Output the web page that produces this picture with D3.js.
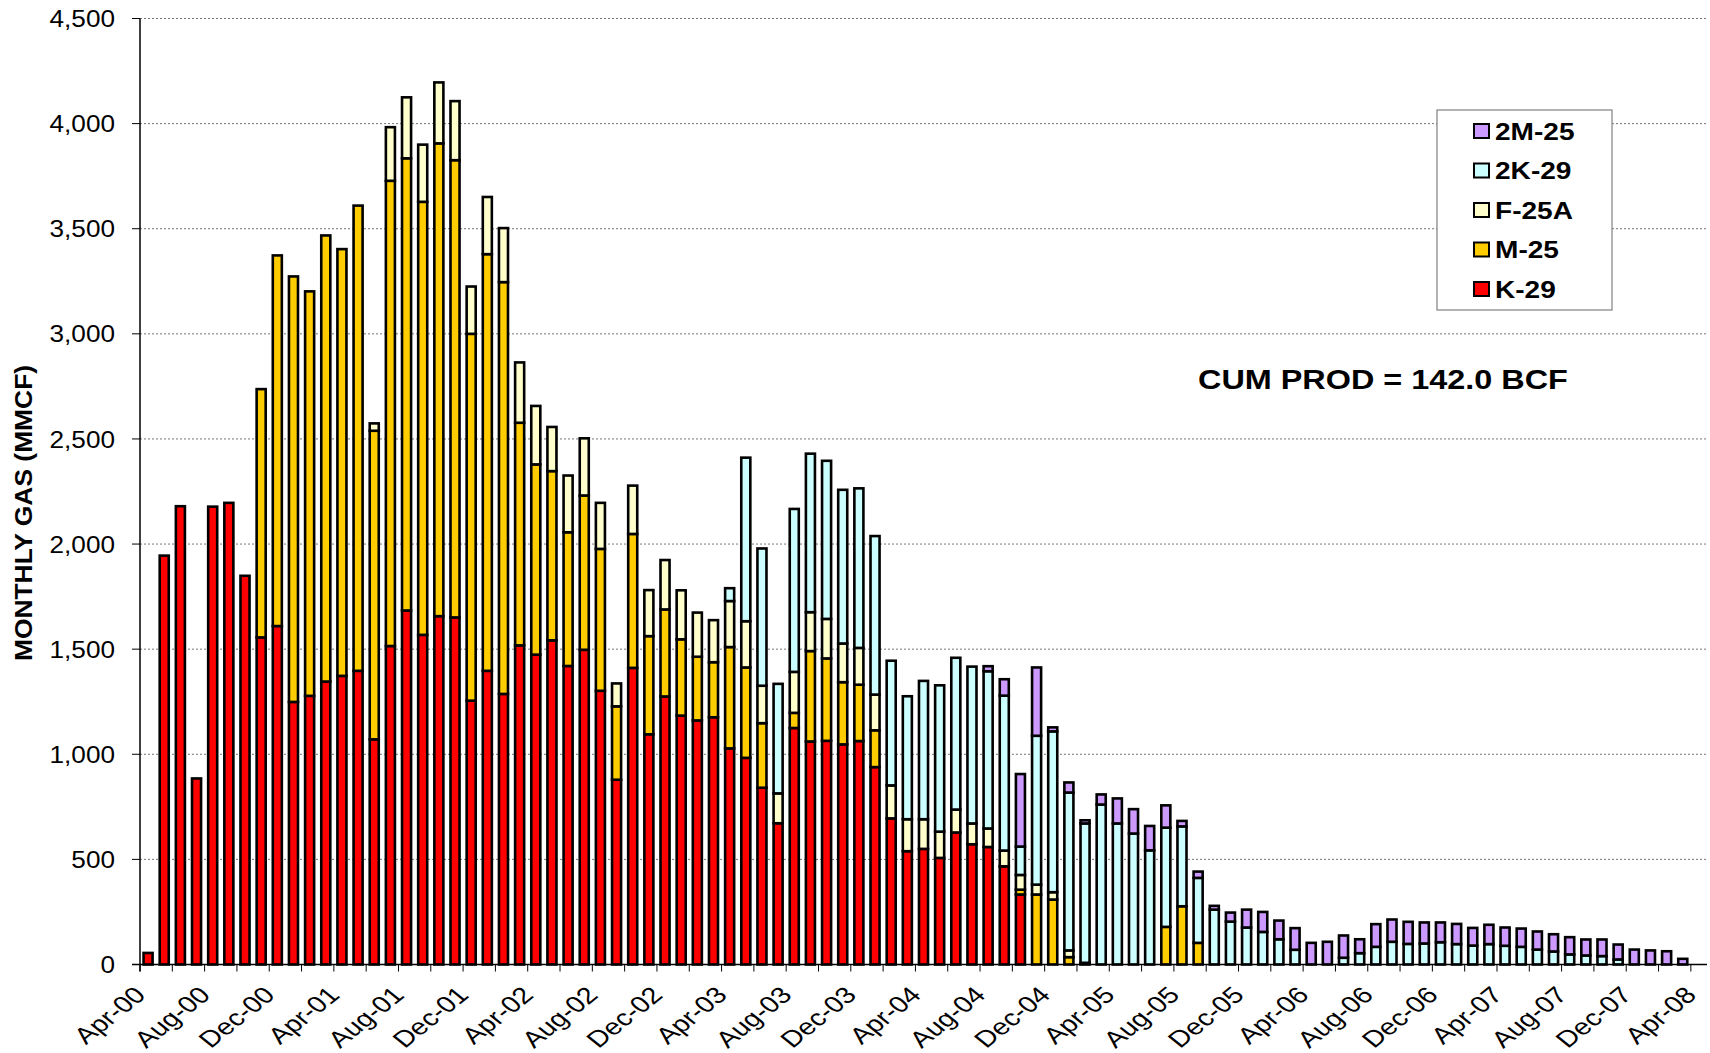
<!DOCTYPE html>
<html>
<head>
<meta charset="utf-8">
<script src="https://cdn.jsdelivr.net/npm/d3@7"></script>
<style>
  body { margin: 0; background: #fff; }
  text { font-family: "Liberation Sans", Arial, sans-serif; fill: #000; }
</style>
</head>
<body>
<div id="chart"></div>
<script>
var months = [
  "Apr-00","May-00","Jun-00","Jul-00","Aug-00","Sep-00","Oct-00","Nov-00","Dec-00",
  "Jan-01","Feb-01","Mar-01","Apr-01","May-01","Jun-01","Jul-01","Aug-01","Sep-01","Oct-01","Nov-01","Dec-01",
  "Jan-02","Feb-02","Mar-02","Apr-02","May-02","Jun-02","Jul-02","Aug-02","Sep-02","Oct-02","Nov-02","Dec-02",
  "Jan-03","Feb-03","Mar-03","Apr-03","May-03","Jun-03","Jul-03","Aug-03","Sep-03","Oct-03","Nov-03","Dec-03",
  "Jan-04","Feb-04","Mar-04","Apr-04","May-04","Jun-04","Jul-04","Aug-04","Sep-04","Oct-04","Nov-04","Dec-04",
  "Jan-05","Feb-05","Mar-05","Apr-05","May-05","Jun-05","Jul-05","Aug-05","Sep-05","Oct-05","Nov-05","Dec-05",
  "Jan-06","Feb-06","Mar-06","Apr-06","May-06","Jun-06","Jul-06","Aug-06","Sep-06","Oct-06","Nov-06","Dec-06",
  "Jan-07","Feb-07","Mar-07","Apr-07","May-07","Jun-07","Jul-07","Aug-07","Sep-07","Oct-07","Nov-07","Dec-07",
  "Jan-08","Feb-08","Mar-08","Apr-08"
];

var tickLabels = ["Apr-00","Aug-00","Dec-00","Apr-01","Aug-01","Dec-01","Apr-02","Aug-02","Dec-02",
  "Apr-03","Aug-03","Dec-03","Apr-04","Aug-04","Dec-04","Apr-05","Aug-05","Dec-05",
  "Apr-06","Aug-06","Dec-06","Apr-07","Aug-07","Dec-07","Apr-08"];

var yTicks = [0,500,1000,1500,2000,2500,3000,3500,4000,4500];

// monthly gas by well, MMCF
var k29 = [55,1945,2180,885,2178,2196,1849,1556,1610,1249,
  1278,1346,1373,1397,1071,1515,1684,1568,1657,1651,
  1255,1397,1287,1518,1474,1542,1420,1497,1302,879,
  1411,1095,1275,1184,1161,1176,1028,983,841,672,
  1125,1061,1064,1047,1063,939,695,539,550,507,
  628,572,559,467,333,0,0,0,0,0,
  0,0,0,0,0,0,0,0,0,0,
  0,0,0,0,0,0,0,0,0,0,
  0,0,0,0,0,0,0,0,0,0,
  0,0,0,0,0,0,0];

var m25 = [0,0,0,0,0,0,0,1181,1763,2024,
  1924,2122,2030,2213,1468,2213,2151,2060,2249,2175,
  1745,1982,1959,1059,905,805,636,734,675,349,
  637,467,414,363,303,262,482,430,307,0,
  72,430,392,296,268,175,0,0,0,0,
  0,0,0,0,23,333,309,35,0,0,
  0,0,0,179,277,103,0,0,0,0,
  0,0,0,0,0,0,0,0,0,0,
  0,0,0,0,0,0,0,0,0,0,
  0,0,0,0,0,0,0];

var f25a = [0,0,0,0,0,0,0,0,0,0,
  0,0,0,0,35,255,290,272,290,281,
  225,272,257,287,278,210,270,272,219,109,
  230,219,235,233,210,200,219,220,178,142,
  195,185,188,184,175,170,157,152,141,125,
  109,99,88,75,70,47,35,32,8,0,
  0,0,0,0,0,0,0,0,0,0,
  0,0,0,0,0,0,0,0,0,0,
  0,0,0,0,0,0,0,0,0,0,
  0,0,0,0,0,0,0];

var k2_29 = [0,0,0,0,0,0,0,0,0,0,
  0,0,0,0,0,0,0,0,0,0,
  0,0,0,0,0,0,0,0,0,0,
  0,0,0,0,0,0,61,778,653,521,
  775,754,752,731,759,754,593,585,658,696,
  722,746,748,737,135,708,765,751,663,761,
  671,623,543,472,380,309,261,204,176,155,
  120,70,0,0,32,54,84,108,98,100,
  106,97,90,97,89,84,71,62,48,43,
  40,24,0,0,0,0,0];

var m2_25 = [0,0,0,0,0,0,0,0,0,0,
  0,0,0,0,0,0,0,0,0,0,
  0,0,0,0,0,0,0,0,0,0,
  0,0,0,0,0,0,0,0,0,0,
  0,0,0,0,0,0,0,0,0,0,
  0,0,24,78,345,325,19,48,15,48,
  119,116,116,106,26,30,18,43,85,95,
  89,103,103,108,106,66,108,106,105,100,
  94,96,84,92,87,87,86,82,82,76,
  79,71,71,67,63,27,0];

var keys = ["K-29","M-25","F-25A","2K-29","2M-25"];
var colors = {"K-29":"#ff0000","M-25":"#ffcc00","F-25A":"#ffffcc","2K-29":"#ccffff","2M-25":"#cc99ff"};

var width = 1710, height = 1053;
var plotL = 140, plotR = 1707, plotB = 964.5, plotT = 18.5;

var svg = d3.select("#chart").append("svg")
    .attr("width", width)
    .attr("height", height);

var x = d3.scaleBand().domain(months).range([plotL, plotR])
    .paddingInner(0.44).paddingOuter(0.22);
var y = d3.scaleLinear().domain([0, 4500]).range([plotB, plotT]);
var xb = d3.scaleLinear().domain([0, months.length]).range([plotL, plotR]);

// gridlines
svg.append("g").selectAll("line")
    .data(yTicks.filter(function(d){ return d > 0; }))
    .enter().append("line")
    .attr("x1", plotL).attr("x2", plotR)
    .attr("y1", function(d){ return y(d); })
    .attr("y2", function(d){ return y(d); })
    .attr("stroke", "#777")
    .attr("stroke-width", 1)
    .attr("stroke-dasharray", "2,2");

var table = months.map(function(m, i){
    return {month: m, "K-29": k29[i], "M-25": m25[i], "F-25A": f25a[i], "2K-29": k2_29[i], "2M-25": m2_25[i]};
});
var series = d3.stack().keys(keys)(table);

var layers = svg.append("g").selectAll("g")
    .data(series)
    .enter().append("g")
    .attr("fill", function(d){ return colors[d.key]; });

layers.selectAll("rect")
    .data(function(d){ return d.filter(function(s){ return s[1] - s[0] > 0; }); })
    .enter().append("rect")
    .attr("x", function(d){ return x(d.data.month); })
    .attr("width", x.bandwidth())
    .attr("y", function(d){ return y(d[1]); })
    .attr("height", function(d){ return y(d[0]) - y(d[1]); })
    .attr("stroke", "#000")
    .attr("stroke-width", 2.6);

// axes
svg.append("line").attr("x1", plotL).attr("x2", plotL).attr("y1", plotT).attr("y2", plotB + 7)
    .attr("stroke", "#000").attr("stroke-width", 1.5);
svg.append("line").attr("x1", plotL - 8).attr("x2", plotR).attr("y1", plotB).attr("y2", plotB)
    .attr("stroke", "#000").attr("stroke-width", 1.5);

svg.append("g").selectAll("line").data(yTicks).enter().append("line")
    .attr("x1", plotL - 8).attr("x2", plotL)
    .attr("y1", function(d){ return y(d); }).attr("y2", function(d){ return y(d); })
    .attr("stroke", "#000").attr("stroke-width", 1);

svg.append("g").selectAll("text").data(yTicks).enter().append("text")
    .attr("transform", function(d){ return "translate(115," + y(d) + ") scale(1.09,1)"; })
    .attr("text-anchor", "end")
    .attr("dy", "0.36em")
    .style("font-size", "24px")
    .text(function(d){ return d3.format(",")(d); });

var bTicks = d3.range(0, months.length, 2);
svg.append("g").selectAll("line").data(bTicks).enter().append("line")
    .attr("x1", function(d){ return xb(d); }).attr("x2", function(d){ return xb(d); })
    .attr("y1", plotB).attr("y2", plotB + 7)
    .attr("stroke", "#000").attr("stroke-width", 1);

svg.append("g").selectAll("text").data(tickLabels).enter().append("text")
    .attr("transform", function(d){
        var cx = x(d) + x.bandwidth() / 2 - 1;
        return "translate(" + cx + "," + (plotB + 32) + ") scale(1.25,1) rotate(-45)";
    })
    .attr("text-anchor", "end")
    .style("font-size", "23px")
    .text(function(d){ return d; });

// axis title
svg.append("text")
    .attr("transform", "translate(32,513) rotate(-90) scale(1.1,1)")
    .attr("text-anchor", "middle")
    .style("font-size", "24px")
    .style("font-weight", "bold")
    .text("MONTHLY GAS (MMCF)");

// cumulative note
svg.append("text")
    .attr("transform", "translate(1198,388.5) scale(1.157,1)")
    .style("font-size", "28px")
    .style("font-weight", "bold")
    .text("CUM PROD = 142.0 BCF");

// legend
var legend = svg.append("g");
legend.append("rect")
    .attr("x", 1437).attr("y", 110).attr("width", 175).attr("height", 200)
    .attr("fill", "#fff").attr("stroke", "#808080").attr("stroke-width", 1.2);

var legendKeys = keys.slice().reverse();
var items = legend.selectAll("g.item").data(legendKeys).enter().append("g")
    .attr("class", "item")
    .attr("transform", function(d, i){ return "translate(0," + (131 + i * 39.5) + ")"; });
items.append("rect")
    .attr("x", 1474).attr("y", -7).attr("width", 15).attr("height", 14)
    .attr("fill", function(d){ return colors[d]; })
    .attr("stroke", "#000").attr("stroke-width", 2);
items.append("text")
    .attr("transform", "translate(1495,0) scale(1.17,1)")
    .attr("dy", "0.36em")
    .style("font-size", "24px")
    .style("font-weight", "bold")
    .text(function(d){ return d; });
</script>
</body>
</html>
